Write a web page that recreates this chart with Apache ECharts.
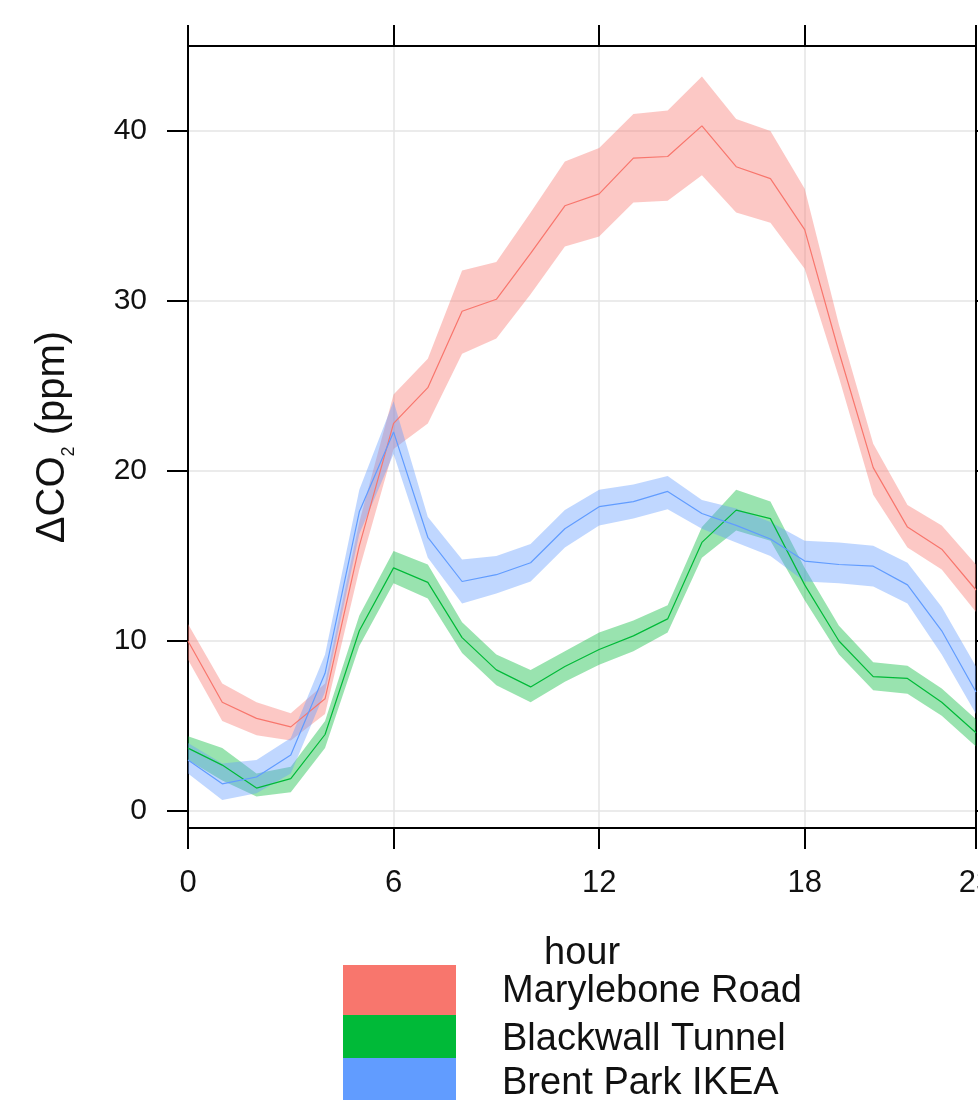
<!DOCTYPE html>
<html>
<head>
<meta charset="utf-8">
<script src="https://cdn.jsdelivr.net/npm/echarts@6/dist/echarts.min.js"></script>
<style>
html,body{margin:0;padding:0;background:#fff;}
#chart{width:978px;height:1102px;}
</style>
</head>
<body>
<div id="chart"></div>
<script>
// ---------------- data ----------------
const hours = [0,1,2,3,4,5,6,7,8,9,10,11,12,13,14,15,16,17,18,19,20,21,22,23];
const siteNames = ['Marylebone Road', 'Blackwall Tunnel', 'Brent Park IKEA'];
const siteColors = ['#F8766D', '#00BA38', '#619CFF'];
const legendTitle = 'hour';

const maryMean  = [10.0, 6.4, 5.45, 4.95, 6.6, 15.6, 22.8, 24.9, 29.4, 30.1, 32.8, 35.6, 36.3, 38.4, 38.5, 40.3, 37.9, 37.2, 34.2, 27.0, 20.2, 16.7, 15.4, 13.0];
const maryLower = [ 8.9, 5.3, 4.45, 4.15, 5.7, 14.2, 21.3, 22.8, 26.9, 27.8, 30.4, 33.2, 33.8, 35.8, 35.9, 37.4, 35.2, 34.6, 31.9, 25.5, 18.6, 15.5, 14.2, 11.7];
const maryUpper = [11.0, 7.5, 6.4, 5.75, 7.5, 17.0, 24.5, 26.6, 31.8, 32.3, 35.2, 38.2, 39.0, 41.0, 41.2, 43.2, 40.7, 40.0, 36.6, 28.6, 21.6, 18.0, 16.8, 14.5];

const blackMean  = [3.7, 2.7, 1.35, 1.9, 4.5, 10.6, 14.3, 13.45, 10.2, 8.3, 7.3, 8.5, 9.5, 10.3, 11.3, 15.8, 17.7, 17.2, 13.3, 10.0, 7.9, 7.8, 6.4, 4.6];
const blackLower = [3.0, 1.8, 0.85, 1.1, 3.7,  9.7, 13.4, 12.5,  9.3, 7.4, 6.4, 7.6, 8.6,  9.4, 10.5, 14.9, 16.5, 15.9, 12.4,  9.2, 7.1, 6.9, 5.6, 3.8];
const blackUpper = [4.4, 3.7, 2.2,  2.6, 5.3, 11.5, 15.3, 14.5, 11.1, 9.2, 8.3, 9.4, 10.5, 11.2, 12.1, 16.7, 18.9, 18.2, 14.3, 10.9, 8.75, 8.55, 7.2, 5.4];

const brentMean  = [3.0, 1.6, 2.0, 3.3, 8.1, 17.6, 22.3, 16.1, 13.5, 13.9, 14.6, 16.6, 17.9, 18.2, 18.8, 17.5, 16.8, 16.0, 14.7, 14.5, 14.4, 13.3, 10.6, 7.0];
const brentLower = [2.2, 0.65, 1.05, 2.2, 7.0, 16.3, 21.0, 14.9, 12.2, 12.8, 13.5, 15.5, 16.8, 17.2, 17.75, 16.6, 15.8, 15.0, 13.5, 13.4, 13.2, 12.2, 9.2, 5.7];
const brentUpper = [4.0, 2.8, 3.0, 4.3, 9.2, 18.9, 24.1, 17.3, 14.8, 15.0, 15.7, 17.7, 18.9, 19.2, 19.7, 18.3, 17.8, 17.0, 15.9, 15.8, 15.6, 14.6, 12.0, 8.5];

const xTickValues = [0, 6, 12, 18, 23];
const yTickValues = [0, 10, 20, 30, 40];

// ---------------- chart ----------------
const FONT = "'Liberation Sans', Arial, Helvetica, sans-serif";

function rgba(hex, a) {
  const n = parseInt(hex.slice(1), 16);
  return 'rgba(' + ((n >> 16) & 255) + ',' + ((n >> 8) & 255) + ',' + (n & 255) + ',' + a + ')';
}

function bandSeries(lower, upper, color) {
  return {
    type: 'custom',
    silent: true,
    xAxisIndex: 0, yAxisIndex: 0,
    data: hours.map((h, k) => [h, lower[k], upper[k]]),
    encode: { x: 0, y: [1, 2] },
    renderItem: function (params, api) {
      if (params.dataIndex !== 0) return null;
      const pts = [];
      for (let k = 0; k < hours.length; k++) pts.push(api.coord([hours[k], upper[k]]));
      for (let k = hours.length - 1; k >= 0; k--) pts.push(api.coord([hours[k], lower[k]]));
      return { type: 'polygon', shape: { points: pts }, style: { fill: rgba(color, 0.4) } };
    }
  };
}

function meanSeries(name, mean, color) {
  return {
    type: 'line',
    name: name,
    xAxisIndex: 0, yAxisIndex: 0,
    data: hours.map((h, k) => [h, mean[k]]),
    symbol: 'none',
    lineStyle: { color: color, width: 1.2 },
    itemStyle: { color: color },
    silent: true
  };
}

const means = [maryMean, blackMean, brentMean];
const lowers = [maryLower, blackLower, brentLower];
const uppers = [maryUpper, blackUpper, brentUpper];
const series = [];
for (let i = 0; i < 3; i++) {
  series.push(bandSeries(lowers[i], uppers[i], siteColors[i]));
  series.push(meanSeries(siteNames[i], means[i], siteColors[i]));
}

const frameLine = { show: true, onZero: false, lineStyle: { color: '#000', width: 2 } };
const outTick = (vals) => ({ show: true, inside: false, length: 21, customValues: vals, lineStyle: { color: '#000', width: 2 } });
const gridLine = { show: true, lineStyle: { color: '#e4e4e4', width: 1.5 } };

// legend (drawn as text + swatches)
const legendRows = [
  { y: 965, h: 50, ty: 992 },
  { y: 1015, h: 43, ty: 1040 },
  { y: 1058, h: 42, ty: 1084 }
];
const graphics = [
  { type: 'text', x: 544, y: 954, style: { text: legendTitle, font: '38px ' + FONT, fill: '#111', verticalAlign: 'middle', align: 'left' } }
];
legendRows.forEach((r, i) => {
  graphics.push({ type: 'rect', x: 343, y: r.y, shape: { x: 0, y: 0, width: 113, height: r.h }, style: { fill: siteColors[i] } });
  graphics.push({ type: 'text', x: 502, y: r.ty, style: { text: siteNames[i], font: '38px ' + FONT, fill: '#111', verticalAlign: 'middle', align: 'left' } });
});

const option = {
  animation: false,
  backgroundColor: '#fff',
  grid: { left: 188, top: 46, width: 788, height: 782, containLabel: false, outerBoundsMode: 'none' },
  xAxis: [
    {
      type: 'value', position: 'bottom', min: 0, max: 23, interval: 6,
      axisLine: frameLine,
      axisTick: outTick(xTickValues),
      axisLabel: { show: true, customValues: xTickValues, fontSize: 31, fontFamily: FONT, color: '#111', margin: 40, showMaxLabel: true, showMinLabel: true },
      splitLine: gridLine
    },
    {
      type: 'value', position: 'top', min: 0, max: 23, interval: 6,
      axisLine: frameLine,
      axisTick: outTick(xTickValues),
      axisLabel: { show: false },
      splitLine: { show: false }
    }
  ],
  yAxis: [
    {
      type: 'value', position: 'left', min: -1, max: 45,
      axisLine: frameLine,
      axisTick: outTick(yTickValues),
      axisLabel: { show: true, customValues: yTickValues, fontSize: 30, fontFamily: FONT, color: '#111', margin: 41 },
      splitLine: gridLine,
      name: '{a|ΔCO}{s|2}{a| (ppm)}',
      nameLocation: 'middle',
      nameRotate: 90,
      nameGap: 115,
      nameTextStyle: {
        fontFamily: FONT, color: '#111',
        rich: {
          a: { fontSize: 40, fontFamily: FONT, color: '#111', lineHeight: 40, verticalAlign: 'top' },
          s: { fontSize: 18, fontFamily: FONT, color: '#111', lineHeight: 18, verticalAlign: 'top', padding: [27, 0, 0, 0] }
        }
      }
    },
    {
      type: 'value', position: 'right', min: -1, max: 45,
      axisLine: frameLine,
      axisTick: outTick(yTickValues),
      axisLabel: { show: false },
      splitLine: { show: false }
    }
  ],
  graphic: graphics,
  series: series
};

const chart = echarts.init(document.getElementById('chart'), null, { renderer: 'canvas' });
chart.setOption(option);
</script>
</body>
</html>
